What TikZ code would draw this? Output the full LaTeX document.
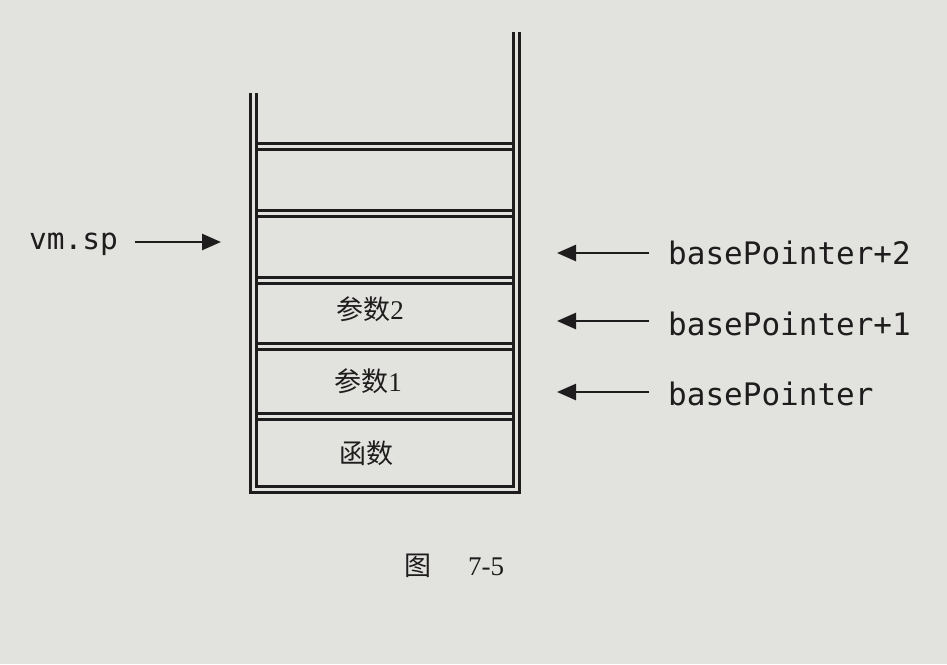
\documentclass[tikz,border=0pt]{standalone}
\usepackage{fontspec}
\setmainfont{Liberation Serif}
\newfontfamily\cjk{Noto Sans CJK SC}
\newfontfamily\monof{DejaVu Sans Mono}
\usetikzlibrary{arrows.meta}
\definecolor{paper}{RGB}{226,226,223}
\definecolor{ink}{RGB}{30,28,28}
\tikzset{
  wall/.style={draw=ink, line width=3pt},
  ptr/.style={draw=ink, line width=2.6pt, -{Triangle[length=19pt,width=16pt]}},
  lbl/.style={text=ink, inner sep=0pt, font=\monof\fontsize{31}{36}\selectfont, anchor=base west},
  cell/.style={text=ink, inner sep=0pt, font=\fontsize{27}{30}\selectfont},
}
\begin{document}
\begin{tikzpicture}[x=1pt,y=-1pt]
\fill[paper] (0,0) rectangle (947,664);
\useasboundingbox (0,0) rectangle (947,664);
% container walls (double)
\draw[wall] (250,93) -- (250,492.5) -- (519.5,492.5) -- (519.5,32);
\draw[wall] (256,93) -- (256,486.5) -- (513.5,486.5) -- (513.5,32);
% cell separators (double lines)
\foreach \a/\b in {143/149, 210.5/216.5, 277/283, 343/349, 413/419}{
  \draw[wall] (256,\a) -- (513.5,\a);
  \draw[wall] (256,\b) -- (513.5,\b);
}
% cells
\node[cell] (c1) at (384,179) {};
\node[cell] (c2) at (384,246) {};
\node[cell] (c3) at (370,309) {{\cjk 参数}2};
\node[cell] (c4) at (368,381) {{\cjk 参数}1};
\node[cell] (c5) at (366,453) {\cjk 函数};
% labels
\node[lbl, font=\monof\fontsize{29.5}{34}\selectfont] (vmsp) at (29,249) {vm.sp};
\node[lbl] (bp2) at (668,264) {basePointer+2};
\node[lbl] (bp1) at (668,335) {basePointer+1};
\node[lbl] (bp0) at (668,405) {basePointer};
% arrow ends
\coordinate (vmtip) at (221,242);
\coordinate (t2) at (557,253);
\coordinate (t1) at (557,321);
\coordinate (t0) at (557,392);
\draw[ptr] (vmsp.east |- vmtip) ++(17,0) -- (vmtip);
\draw[ptr] (bp2.west |- t2) ++(-19,0) -- (t2);
\draw[ptr] (bp1.west |- t1) ++(-19,0) -- (t1);
\draw[ptr] (bp0.west |- t0) ++(-19,0) -- (t0);
% caption
\node[cell, font=\fontsize{27}{30}\selectfont] (cap) at (454,566) {{\cjk 图}\hspace{37pt}7-5};
\end{tikzpicture}
\end{document}
